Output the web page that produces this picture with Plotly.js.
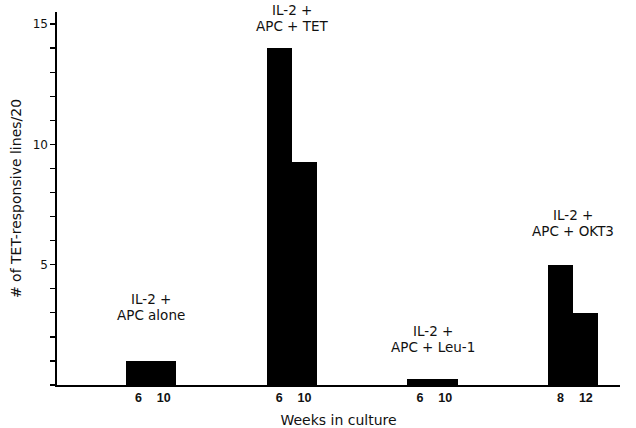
<!DOCTYPE html>
<html>
<head>
<meta charset="utf-8">
<script src="https://cdn.plot.ly/plotly-3.0.1.min.js"></script>
<style>html,body{margin:0;padding:0;background:#fff;}#chart{width:636px;height:428px;}</style>
</head>
<body>
<div id="chart"></div>
<script>
// ---- data ----
const groups = ["IL-2 +<br>APC alone", "IL-2 +<br>APC + TET", "IL-2 +<br>APC + Leu-1", "IL-2 +<br>APC + OKT3"];
const weeksLabels = [["6", "10"], ["6", "10"], ["6", "10"], ["8", "12"]];
const responsiveLines = [[1, 1], [14, 9.25], [0.25, 0.25], [5, 3]];
const yTickValues = [5, 10, 15];

// ---- layout helpers (positions, not data) ----
const firstCenter = 3.72, groupSpacing = 5.56;
const labelLift = [1.5, 0.5, 0.9, 1.0];

const xs = [], ys = [], tickvals = [], ticktext = [];
groups.forEach((g, i) => {
  const c = firstCenter + groupSpacing * i;
  responsiveLines[i].forEach((v, j) => {
    const x = c + (j === 0 ? -0.5 : 0.5);
    xs.push(x); ys.push(v);
    tickvals.push(x); ticktext.push("<b>" + weeksLabels[i][j] + "</b>");
  });
});

const fam = "DejaVu Sans, Verdana, sans-serif";
const ink = "#111";

const annotations = [];
groups.forEach((g, i) => {
  const lines = g.split("<br>");
  const x = firstCenter + groupSpacing * i;
  const y = Math.max(...responsiveLines[i]) + labelLift[i];
  lines.forEach((t, k) => {
    annotations.push({
      x: x, y: y, xref: "x", yref: "y", text: t, showarrow: false,
      yanchor: "bottom", xanchor: "center",
      yshift: (lines.length - 1 - k) * 16,
      font: {family: fam, size: 13.5, color: ink}
    });
  });
});

Plotly.newPlot("chart", [{
  type: "bar", x: xs, y: ys, width: 1,
  marker: {color: "#000", line: {width: 0}},
  hoverinfo: "skip"
}], {
  width: 636, height: 428,
  margin: {l: 57, r: 16, t: 12, b: 43},
  paper_bgcolor: "#fff", plot_bgcolor: "#fff",
  showlegend: false,
  bargap: 0,
  font: {family: fam, size: 12, color: ink},
  xaxis: {
    range: [0, 22.25], showgrid: false, zeroline: false,
    showline: true, linecolor: "#000", linewidth: 1.6,
    tickmode: "array", tickvals: tickvals, ticktext: ticktext,
    ticks: "", tickfont: {family: "Liberation Sans, Arial, sans-serif", size: 12.5, color: ink},
    title: {text: "Weeks in culture", font: {family: fam, size: 14, color: ink}, standoff: 15},
    automargin: false,
    fixedrange: true
  },
  yaxis: {
    range: [0, 15.5], showgrid: false, zeroline: false,
    showline: true, linecolor: "#000", linewidth: 1.6,
    tickmode: "array", tickvals: yTickValues,
    ticks: "outside", ticklen: 5, tickwidth: 1.3, tickcolor: "#000",
    minor: {tickmode: "linear", tick0: 0, dtick: 1, ticks: "outside", ticklen: 5, tickwidth: 1.3, tickcolor: "#000"},
    tickfont: {family: fam, size: 12, color: ink},
    title: {text: "# of TET-responsive lines/20", font: {family: fam, size: 14, color: ink}, standoff: 8},
    automargin: false,
    fixedrange: true
  },
  annotations: annotations
}, {staticPlot: true, displayModeBar: false});
</script>
</body>
</html>
